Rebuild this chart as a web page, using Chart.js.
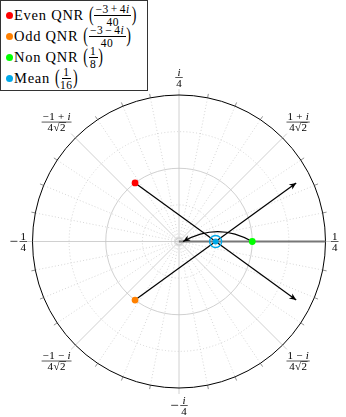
<!DOCTYPE html>
<html>
<head>
<meta charset="utf-8">
<script src="https://cdn.jsdelivr.net/npm/chart.js@4"></script>
<style>
html, body { margin: 0; padding: 0; background: #fff; }
#wrap { position: relative; width: 346px; height: 417px; }
#c { display: block; }
#legend {
  position: absolute; left: 0; top: 0; width: 148px; height: 91px;
  border: 1px solid #333; box-sizing: border-box; background: #fff;
  font-family: "Liberation Serif", serif; font-size: 14.5px; color: #000;
}
.row { position: absolute; left: 0; height: 22px; display: flex; align-items: center; white-space: nowrap; }
.name { letter-spacing: 0.75px; }
.dot { display: inline-block; width: 7px; height: 7px; border-radius: 50%; margin: 0 1.5px 0 4.5px; }
.paren { display: inline-block; transform: scaleY(1.55); margin: 0 0.5px; font-size: 14px; }
.frac { display: inline-flex; flex-direction: column; align-items: center; font-size: 11.5px; line-height: 10px; letter-spacing: 0.5px; }
.frac .num { border-bottom: 0.7px solid #000; padding: 0 1.5px 1px; }
.frac .den { padding-top: 1px; }
.op { margin: 0 2px; }
</style>
</head>
<body>
<div id="wrap">
  <canvas id="c" width="346" height="417"></canvas>
  <div id="legend"></div>
</div>
<script>
// series (complex points: re + i*im)
const seriesNames = ["Even QNR", "Odd QNR", "Non QNR", "Mean"];
const seriesNum = ["−3 + 4i", "−3 − 4i", "1", "1"];
const seriesDen = ["40", "40", "8", "16"];
const seriesColors = ["#ff0000", "#ff8000", "#00ff00", "#00a8e8"];
const pointRe = [-0.075, -0.075, 0.125, 0.0625];
const pointIm = [0.1, -0.1, 0, 0];

// arrows through the mean
const arrowStartRe = [-0.075, -0.075];
const arrowStartIm = [0.1, -0.1];
const arrowEndRe = [0.2, 0.2];
const arrowEndIm = [-0.1, 0.1];

// bent arrow from Non QNR back to the origin
const bendStart = [0.125, 0];
const bendEnd = [0.007, 0];

// grid
const rMax = 0.25;
const solidRings = [0.125];
const dottedRings = [0.0625, 0.1875];
const spokeStep = 11.25;

// tick labels round the outer circle
const tickAngles = [0, 45, 90, 135, 180, 225, 270, 315];
const tickSign = ["", "", "", "", "−", "", "−", ""];
const tickNum = ["1", "1 + i", "i", "−1 + i", "1", "−1 − i", "i", "1 − i"];
const tickDen = ["4", "4√2", "4", "4√2", "4", "4√2", "4", "4√2"];

// legend (html so the fractions stack)
const legendRowsY = [3, 24, 45, 66];
const legendEl = document.getElementById("legend");
seriesNames.forEach((name, i) => {
  const row = document.createElement("div");
  row.className = "row";
  row.style.top = legendRowsY[i] + "px";
  const num = seriesNum[i]
    .replace(/ ([+−]) /g, '<span class="op">$1</span>')
    .replace("i", "<i>i</i>");
  row.innerHTML =
    `<span class="dot" style="background:${seriesColors[i]}"></span>` +
    `<span class="name">${name}&nbsp;</span><span class="paren">(</span>` +
    `<span class="frac"><span class="num">${num}</span><span class="den">${seriesDen[i]}</span></span>` +
    `<span class="paren">)</span>`;
  legendEl.appendChild(row);
});

function arrowHead(ctx, x, y, ang) {
  const L = 7, W = 3;
  ctx.save();
  ctx.translate(x, y);
  ctx.rotate(ang);
  ctx.beginPath();
  ctx.moveTo(0, 0);
  ctx.lineTo(-L, -W);
  ctx.lineTo(-L * 0.72, 0);
  ctx.lineTo(-L, W);
  ctx.closePath();
  ctx.fill();
  ctx.restore();
}

// text with italic i, spaced like TeX
const SP = 2.8, LS = 0.45;
function setFont(ctx, ch, size) {
  ctx.font = (ch === "i" ? "italic " : "") + size + "px 'Liberation Serif'";
}
function richWidth(ctx, s, size) {
  let w = 0;
  for (const ch of s) {
    setFont(ctx, ch, size);
    w += ch === " " ? SP : ctx.measureText(ch).width + LS;
  }
  return w - LS;
}
function drawRich(ctx, s, cx, base, size) {
  const w = richWidth(ctx, s, size);
  let x = cx - w / 2;
  let radical = false;
  for (const ch of s) {
    setFont(ctx, ch, size);
    if (ch === " ") { x += SP; continue; }
    ctx.fillText(ch, x, base);
    const cw = ctx.measureText(ch).width;
    if (radical) ctx.fillRect(x - LS, base - size * 0.84, cw + LS + 0.5, 0.6);
    if (ch === "√") radical = true;
    x += cw + LS;
  }
}
function fracWidth(ctx, num, den, size) {
  return Math.max(richWidth(ctx, num, size), richWidth(ctx, den, size)) + 2;
}
function drawFrac(ctx, num, den, cx, cy, size) {
  const w = fracWidth(ctx, num, den, size);
  drawRich(ctx, num, cx, cy - 2, size);
  ctx.fillRect(cx - w / 2, cy - 0.3, w, 0.65);
  drawRich(ctx, den, cx, cy + size * 0.68 + 2, size);
}

const polarGrid = {
  id: "polarGrid",
  beforeDatasetsDraw(chart) {
    const { ctx, scales: { x, y } } = chart;
    const cx = x.getPixelForValue(0), cy = y.getPixelForValue(0);
    const px = r => x.getPixelForValue(r) - cx;
    const R = px(rMax);
    ctx.save();
    // dotted rings and spokes
    ctx.strokeStyle = "#cccccc";
    ctx.lineWidth = 0.8;
    ctx.setLineDash([1, 2.2]);
    dottedRings.forEach(r => {
      ctx.beginPath(); ctx.arc(cx, cy, px(r), 0, 2 * Math.PI); ctx.stroke();
    });
    for (let a = 0; a < 360; a += spokeStep) {
      if (a % 45 === 0) continue;
      const t = a * Math.PI / 180;
      ctx.beginPath();
      ctx.moveTo(cx + 4 * Math.cos(t), cy - 4 * Math.sin(t));
      ctx.lineTo(cx + R * Math.cos(t), cy - R * Math.sin(t));
      ctx.stroke();
    }
    ctx.setLineDash([]);
    // solid rings and spokes
    ctx.strokeStyle = "#c4c4c4";
    solidRings.forEach(r => {
      ctx.beginPath(); ctx.arc(cx, cy, px(r), 0, 2 * Math.PI); ctx.stroke();
    });
    ctx.beginPath(); ctx.arc(cx, cy, 3.5, 0, 2 * Math.PI); ctx.stroke();
    for (let a = 0; a < 360; a += 45) {
      const t = a * Math.PI / 180;
      ctx.beginPath();
      ctx.moveTo(cx, cy);
      ctx.lineTo(cx + (R + 6) * Math.cos(t), cy - (R + 6) * Math.sin(t));
      ctx.stroke();
    }
    // small ticks outside the circle
    ctx.strokeStyle = "#777";
    for (let a = 0; a < 360; a += spokeStep) {
      if (a % 45 === 0) continue;
      const t = a * Math.PI / 180;
      ctx.beginPath();
      ctx.moveTo(cx + R * Math.cos(t), cy - R * Math.sin(t));
      ctx.lineTo(cx + (R + 4) * Math.cos(t), cy - (R + 4) * Math.sin(t));
      ctx.stroke();
    }
    // outer circle
    ctx.strokeStyle = "#000";
    ctx.lineWidth = 1;
    ctx.beginPath(); ctx.arc(cx, cy, R, 0, 2 * Math.PI); ctx.stroke();
    // positive real axis
    ctx.strokeStyle = "#777";
    ctx.lineWidth = 2;
    ctx.beginPath(); ctx.moveTo(cx, cy); ctx.lineTo(cx + R, cy); ctx.stroke();
    // bent arrow
    const p0x = x.getPixelForValue(bendStart[0]), p0y = y.getPixelForValue(bendStart[1]);
    const p3x = x.getPixelForValue(bendEnd[0]), p3y = y.getPixelForValue(bendEnd[1]);
    const L = Math.hypot(p3x - p0x, p3y - p0y) * 0.3915;
    const c1x = p0x - L * Math.cos(Math.PI / 6), c1y = p0y - L * Math.sin(Math.PI / 6);
    const c2x = p3x + L * Math.cos(Math.PI / 6), c2y = p3y - L * Math.sin(Math.PI / 6);
    ctx.strokeStyle = "#000";
    ctx.lineWidth = 1.2;
    ctx.beginPath();
    ctx.moveTo(p0x, p0y);
    ctx.bezierCurveTo(c1x, c1y, c2x, c2y, p3x, p3y);
    ctx.stroke();
    ctx.fillStyle = "#000";
    arrowHead(ctx, p3x, p3y, Math.atan2(p3y - c2y, p3x - c2x));
    ctx.restore();
  },
  afterDatasetsDraw(chart) {
    const { ctx, scales: { x, y } } = chart;
    ctx.save();
    ctx.fillStyle = "#000";
    arrowEndRe.forEach((re, i) => {
      const sx = x.getPixelForValue(arrowStartRe[i]), sy = y.getPixelForValue(arrowStartIm[i]);
      const ex = x.getPixelForValue(re), ey = y.getPixelForValue(arrowEndIm[i]);
      arrowHead(ctx, ex, ey, Math.atan2(ey - sy, ex - sx));
    });
    ctx.restore();
  },
  afterDraw(chart) {
    const { ctx, scales: { x, y } } = chart;
    const cx = x.getPixelForValue(0), cy = y.getPixelForValue(0);
    const R = x.getPixelForValue(rMax) - cx;
    const size = 11;
    ctx.save();
    ctx.fillStyle = "#000";
    ctx.textBaseline = "alphabetic";
    tickAngles.forEach((a, i) => {
      const t = a * Math.PI / 180;
      const fw = fracWidth(ctx, tickNum[i], tickDen[i], size);
      ctx.font = "15px 'Liberation Serif'";
      const sw = tickSign[i] ? ctx.measureText(tickSign[i]).width + 1.5 : 0;
      const w = fw + sw, h = size * 2 + 2;
      const c = Math.cos(t), s = Math.sin(t);
      const m = Math.max(Math.abs(c), Math.abs(s));
      const gap = 5.5;
      const lx = cx + (R + gap) * c + (c / m) * w / 2;
      const ly = cy - (R + gap) * s - (s / m) * h / 2;
      if (tickSign[i]) {
        ctx.font = "15px 'Liberation Serif'";
        ctx.fillText(tickSign[i], lx - w / 2, ly + 4.5);
      }
      drawFrac(ctx, tickNum[i], tickDen[i], lx - w / 2 + sw + fw / 2, ly, size);
    });
    ctx.restore();
  }
};

const pts = seriesNames.map((n, i) => ({
  data: [{ x: pointRe[i], y: pointIm[i] }],
  backgroundColor: seriesColors[i],
  borderWidth: 0,
  pointRadius: i === 3 ? 3 : 3.4,
  order: 1
}));
const meanRing = {
  data: [{ x: pointRe[3], y: pointIm[3] }],
  backgroundColor: "rgba(0,0,0,0)",
  borderColor: seriesColors[3],
  borderWidth: 1.4,
  pointRadius: 6,
  order: 1
};
const arrows = arrowEndRe.map((re, i) => ({
  data: [{ x: arrowStartRe[i], y: arrowStartIm[i] }, { x: re, y: arrowEndIm[i] }],
  showLine: true,
  borderColor: "#000",
  borderWidth: 1.2,
  pointRadius: 0,
  order: 2
}));

new Chart(document.getElementById("c"), {
  type: "scatter",
  data: { datasets: [...pts, meanRing, ...arrows] },
  options: {
    responsive: false,
    animation: false,
    layout: { padding: { left: 32.5, right: 20.5, top: 95, bottom: 29 } },
    scales: {
      x: { type: "linear", min: -rMax, max: rMax, display: false },
      y: { type: "linear", min: -rMax, max: rMax, display: false }
    },
    plugins: { legend: { display: false }, tooltip: { enabled: false } }
  },
  plugins: [polarGrid]
});
</script>
</body>
</html>
